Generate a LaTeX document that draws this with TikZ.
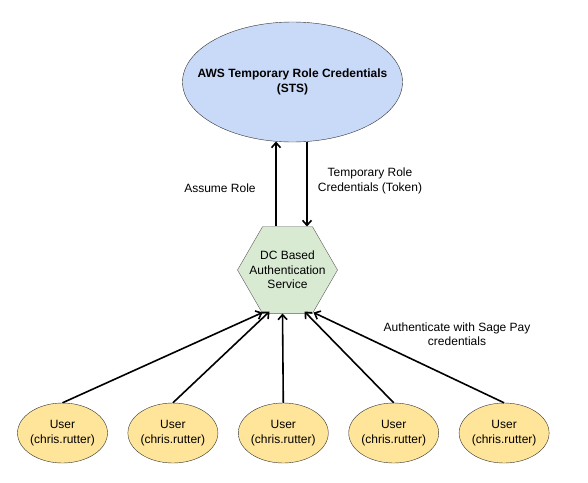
\documentclass[tikz,border=0pt]{standalone}
\usepackage{fontspec}
\setmainfont{Liberation Sans}
\usetikzlibrary{arrows.meta,calc,positioning,shapes.geometric}
\definecolor{stsblue}{HTML}{C9DAF8}
\definecolor{authgreen}{HTML}{D9EAD3}
\definecolor{useryellow}{HTML}{FFE599}
\definecolor{edgegray}{HTML}{333333}

\begin{document}
\begin{tikzpicture}[x=1pt,y=-1pt,>={Straight Barb[length=5pt,width=9pt]},font=\fontsize{12}{14.5}\selectfont]
\tikzset{user/.style={draw=edgegray,ellipse,fill=useryellow,align=center,minimum width=90pt,minimum height=60pt,inner xsep=-2.5pt,inner ysep=0pt}}
\tikzset{link/.style={->,line width=1.6pt}}
\fill[white] (0,0) rectangle (588,482);
\node[draw=edgegray,ellipse,fill=stsblue,align=center,minimum width=220pt,minimum height=120pt,inner xsep=-18pt,inner ysep=0pt,font=\fontsize{12}{14.5}\selectfont\bfseries] (sts) at (292.5,82) {AWS Temporary Role Credentials\\(STS)};
\node[draw=edgegray!80,regular polygon,regular polygon sides=6,fill=authgreen,minimum size=100pt,inner sep=-12pt,align=center] (auth) at (287.5,270) {DC Based\\Authentication\\Service};
\node[user] (u1) at (62.5,433) {User\\(chris.rutter)};
\node[user,right=20pt of u1] (u2) {User\\(chris.rutter)};
\node[user,right=20pt of u2] (u3) {User\\(chris.rutter)};
\node[user,right=20pt of u3] (u4) {User\\(chris.rutter)};
\node[user,right=20pt of u4] (u5) {User\\(chris.rutter)};
\node[align=center] (assume) at (220,188) {Assume Role};
\node[align=center] (token) at (370,181) {Temporary Role\\Credentials (Token)};
\node[align=center] (authlbl) at (457,334) {Authenticate with Sage Pay\\credentials};
\draw[link] ([xshift=-11.5pt]auth.north) -- ([xshift=-11.5pt]auth.north |- 0,141.5);
\draw[link] ([xshift=19.5pt]auth.north |- 0,141.5) -- ([xshift=19.5pt]auth.north);
\draw[link] (u1.north) -- ([xshift=-25pt,yshift=1pt]auth.south);
\draw[link] (u2.north) -- ([xshift=-18pt,yshift=2pt]auth.south);
\draw[link] (u3.north) -- ([xshift=-5pt]auth.south);
\draw[link] (u4.north) -- ([xshift=17pt,yshift=2pt]auth.south);
\draw[link] (u5.north) -- ([xshift=26pt,yshift=1pt]auth.south);
\end{tikzpicture}
\end{document}
